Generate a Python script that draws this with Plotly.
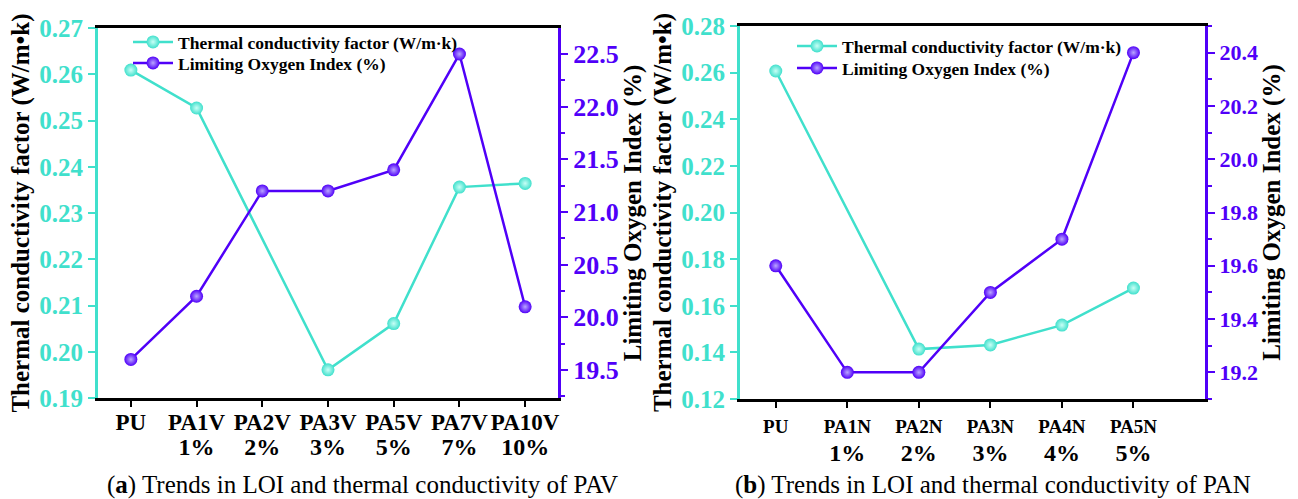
import plotly.graph_objects as go

# ---- data -------------------------------------------------------------
pav_samples = ["PU", "PA1V", "PA2V", "PA3V", "PA5V", "PA7V", "PA10V"]
pav_loadings = ["", "1%", "2%", "3%", "5%", "7%", "10%"]
pav_conductivity = [0.2609, 0.2527, None, 0.1961, 0.2061, 0.2356, 0.2364]
pav_loi = [19.6, 20.2, 21.2, 21.2, 21.4, 22.5, 20.1]

pan_samples = ["PU", "PA1N", "PA2N", "PA3N", "PA4N", "PA5N"]
pan_loadings = ["", "1%", "2%", "3%", "4%", "5%"]
pan_conductivity = [0.2607, None, 0.1414, 0.1432, 0.1517, 0.1676]
pan_loi = [19.6, 19.2, 19.2, 19.5, 19.7, 20.4]

TEAL = "#40E0CC"
TEAL_HI = "#C8FFF6"
PURPLE = "#5000F8"
PURPLE_HI = "#B9A6FF"
FONT = "Liberation Serif"
W, H = 1298, 499


def ticktext(samples, loadings, size):
    out = []
    for s, p in zip(samples, loadings):
        first = f"<span style='font-size:{size}px'>{s}</span>"
        if p:
            out.append(f"{first}<br><span style='font-size:24px'>{p}</span>")
        else:
            out.append(first)
    return out


def px_x(v):
    return v / W


def px_y(v):
    return 1 - v / H


fig = go.Figure()

marker_common = dict(size=13, line=dict(width=0))
TC_NAME = "Thermal conductivity factor (W/m·k)"
LOI_NAME = "Limiting Oxygen Index (%)"


def tc_trace(x, y, xa, ya, leg):
    return go.Scatter(
        x=x, y=y, connectgaps=True, name=TC_NAME, mode="lines+markers",
        line=dict(color=TEAL, width=2.5),
        marker=dict(color=TEAL, gradient=dict(type="radial", color=TEAL_HI), **marker_common),
        xaxis=xa, yaxis=ya, legend=leg, showlegend=True)


def loi_trace(x, y, xa, ya, leg):
    return go.Scatter(
        x=x, y=y, name=LOI_NAME, mode="lines+markers",
        line=dict(color=PURPLE, width=2.5),
        marker=dict(color=PURPLE, gradient=dict(type="radial", color=PURPLE_HI), **marker_common),
        xaxis=xa, yaxis=ya, legend=leg, showlegend=True)


pav_x = list(range(len(pav_samples)))
pan_x = list(range(len(pan_samples)))
fig.add_trace(tc_trace(pav_x, pav_conductivity, "x", "y", "legend"))
fig.add_trace(loi_trace(pav_x, pav_loi, "x", "y2", "legend2"))
fig.add_trace(tc_trace(pan_x, pan_conductivity, "x2", "y3", "legend3"))
fig.add_trace(loi_trace(pan_x, pan_loi, "x2", "y4", "legend4"))

left_dom = [px_x(98), px_x(558)]
right_dom = [px_x(740), px_x(1205)]
left_ydom = [px_y(398), px_y(28)]
right_ydom = [px_y(399), px_y(26)]

title_font = dict(family=FONT, size=25, color="black", weight="bold")


def xaxis(domain, anchor, n, rng, samples, loadings, size, base):
    return dict(
        domain=domain, anchor=anchor, range=rng, automargin=False,
        tickmode="array", tickvals=list(range(n)),
        ticktext=ticktext(samples, loadings, size),
        showline=True, linecolor="black", linewidth=3, mirror=True,
        ticks="outside", ticklen=6, tickwidth=2, tickcolor="black",
        tickfont=dict(family=FONT, size=base, color="black", weight="bold"),
        showgrid=False, zeroline=False,
    )


def yaxis_left(domain, anchor, rng, dtick, fmt, title):
    return dict(
        domain=domain, anchor=anchor, range=rng, dtick=dtick, tick0=0,
        automargin=False,
        tickformat=fmt, showline=True, linecolor=TEAL, linewidth=3,
        ticks="outside", ticklen=7, tickwidth=2, tickcolor=TEAL,
        tickfont=dict(family=FONT, size=25, color=TEAL, weight="bold"),
        showgrid=False, zeroline=False,
        title=dict(text=title, font=title_font, standoff=3),
    )


def yaxis_right(overlay, anchor, rng, dtick, fmt, title, size):
    return dict(
        overlaying=overlay, anchor=anchor, side="right", range=rng,
        dtick=dtick, tick0=0, tickformat=fmt, automargin=False,
        showline=True, linecolor=PURPLE, linewidth=3,
        ticks="outside", ticklen=7, tickwidth=2, tickcolor=PURPLE,
        minor=dict(dtick=dtick / 2, ticks="outside", ticklen=4, tickwidth=2,
                   tickcolor=PURPLE, showgrid=False),
        tickfont=dict(family=FONT, size=size, color=PURPLE, weight="bold"),
        showgrid=False, zeroline=False,
        title=dict(text=title, font=title_font, standoff=4),
    )


legend_font = dict(family=FONT, size=17.5, color="black", weight="bold")


def legend_box(xpx, ypx):
    return dict(x=px_x(xpx), y=px_y(ypx), xanchor="left", yanchor="middle",
                font=legend_font, bgcolor="rgba(0,0,0,0)", itemwidth=40,
                borderwidth=0)


caption_font = dict(family=FONT, size=25, color="black")

fig.update_layout(
    width=W, height=H,
    margin=dict(l=0, r=0, t=0, b=0, autoexpand=False),
    showlegend=True,
    paper_bgcolor="white", plot_bgcolor="white",
    xaxis=xaxis(left_dom, "y", len(pav_samples), [-0.5, 6.5],
                pav_samples, pav_loadings, 23, 19),
    xaxis2=xaxis(right_dom, "y3", len(pan_samples), [-0.5, 6.0],
                 pan_samples, pan_loadings, 19, 21),
    yaxis=yaxis_left(left_ydom, "x", [0.19, 0.27], 0.01, ".2f",
                     "Thermal conductivity factor (W/m•k)"),
    yaxis2=yaxis_right("y", "x", [19.234, 22.747], 0.5, ".1f", LOI_NAME, 26),
    yaxis3=yaxis_left(right_ydom, "x2", [0.12, 0.28], 0.02, ".2f",
                      "Thermal conductivity factor (W/m•k)"),
    yaxis4=yaxis_right("y3", "x2", [19.1, 20.5], 0.2, ".1f", LOI_NAME, 22),
    legend=legend_box(128, 42),
    legend2=legend_box(128, 63),
    legend3=legend_box(792, 46),
    legend4=legend_box(792, 68),
    annotations=[
        dict(text="(<b>a</b>) Trends in LOI and thermal conductivity of PAV",
             x=px_x(363), y=px_y(485), xref="paper", yref="paper",
             xanchor="center", yanchor="middle",
             showarrow=False, font=caption_font),
        dict(text="(<b>b</b>) Trends in LOI and thermal conductivity of PAN",
             x=px_x(993), y=px_y(485), xref="paper", yref="paper",
             xanchor="center", yanchor="middle",
             showarrow=False, font=caption_font),
    ],
)

fig.write_html("out.html")
